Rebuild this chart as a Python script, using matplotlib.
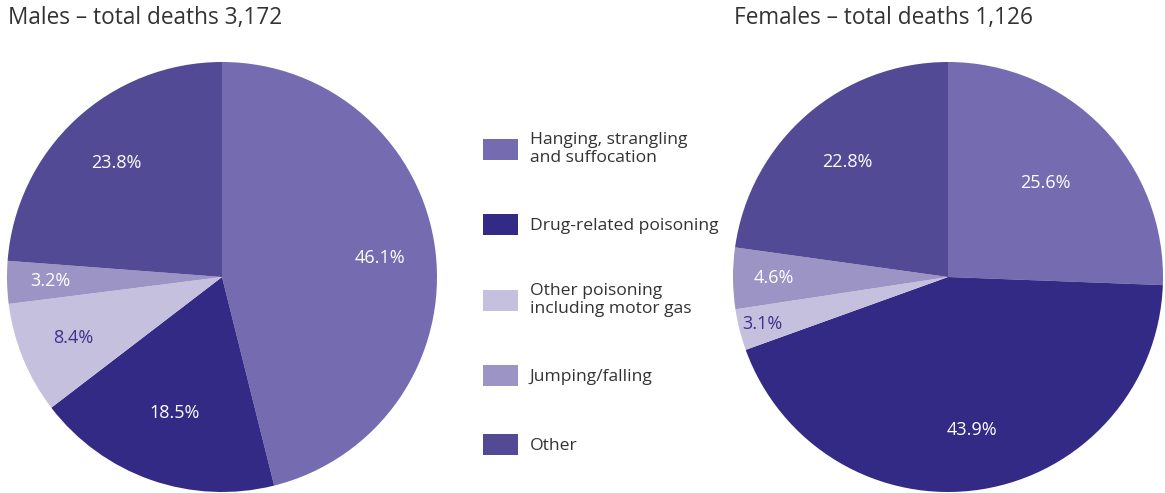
import matplotlib
matplotlib.use("Agg")
import matplotlib.pyplot as plt
from matplotlib.patches import Patch
import numpy as np

plt.rcParams['font.family'] = ['Open Sans', 'DejaVu Sans']

categories = ["Hanging, strangling\nand suffocation", "Drug-related poisoning",
              "Other poisoning\nincluding motor gas", "Jumping/falling", "Other"]
males = [46.1, 18.5, 8.4, 3.2, 23.8]
females = [25.6, 43.9, 3.1, 4.6, 22.8]
titles = ["Males \u2013 total deaths 3,172", "Females \u2013 total deaths 1,126"]

colors = ["#756bb1", "#332a85", "#c5c0de", "#9c94c4", "#524a95"]
label_colors = ["white", "white", "#3b3189", "white", "white"]
male_r = [0.74, 0.67, 0.75, 0.80, 0.72]
female_r = [0.63, 0.72, 0.89, 0.81, 0.71]

W, H = 1165, 493
fig = plt.figure(figsize=(W / 100, H / 100), dpi=100)

def px_axes(cx, cy, r):
    return fig.add_axes([(cx - r) / W, 1 - (cy + r) / H, 2 * r / W, 2 * r / H])

def draw(ax, vals, radii):
    wedges, _ = ax.pie(vals, colors=colors, startangle=90, counterclock=False,
                       radius=1.0, wedgeprops=dict(linewidth=0))
    for w, v, rr, lc in zip(wedges, vals, radii, label_colors):
        ang = np.deg2rad((w.theta1 + w.theta2) / 2)
        ax.text(rr * np.cos(ang), rr * np.sin(ang), f"{v}%", ha="center", va="center",
                fontsize=13, color=lc)
    ax.set_xlim(-1, 1)
    ax.set_ylim(-1, 1)
    ax.set_aspect("equal")
    ax.axis("off")

ax1 = px_axes(222, 277, 215)
draw(ax1, males, male_r)
ax2 = px_axes(948, 277, 215)
draw(ax2, females, female_r)

fig.text(8 / W, 1 - 18 / H, titles[0], fontsize=16.3, color="#333333", va="center", ha="left")
fig.text(734 / W, 1 - 18 / H, titles[1], fontsize=16.3, color="#333333", va="center", ha="left")

handles = [Patch(facecolor=c, edgecolor="none") for c in colors]
leg = fig.legend(handles, categories, loc="upper left", bbox_to_anchor=(483 / W, 1 - 132 / H),
                 frameon=False, fontsize=12.6, handlelength=2.0, handleheight=1.5,
                 handletextpad=0.67, labelspacing=2.72, borderpad=0, borderaxespad=0,
                 labelcolor="#333333")
for t in leg.get_texts():
    t.set_linespacing(1.2)

fig.savefig("out.png", dpi=100)
